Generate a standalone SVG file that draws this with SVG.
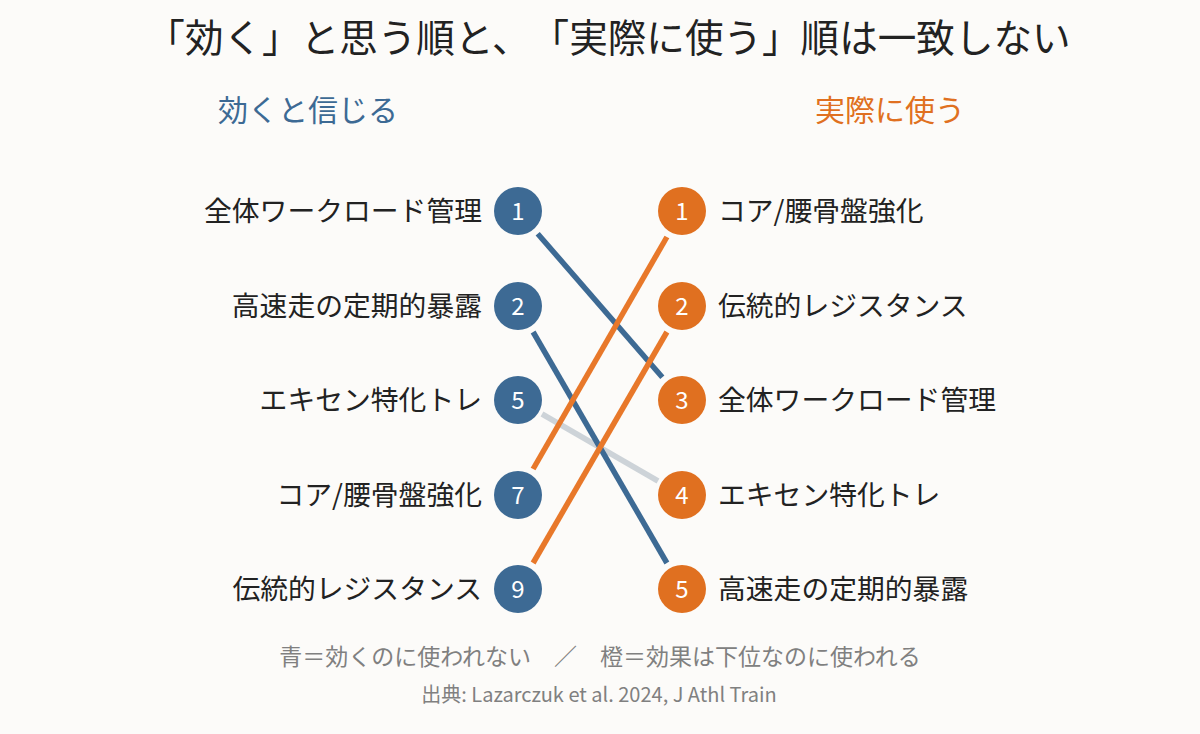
<svg xmlns="http://www.w3.org/2000/svg" width="1200" height="734" viewBox="0 0 1200 734">
<style>
text{font-family:"Noto Sans CJK JP","Noto Sans",sans-serif;text-spacing-trim:space-all}
.title{font-size:38.6px;fill:#222;text-anchor:middle}
.hl{font-size:30px;fill:#3d6a94;text-anchor:middle}
.hr{font-size:30px;fill:#e07020;text-anchor:middle}
.ll{font-size:27.8px;fill:#222;text-anchor:end}
.rl{font-size:27.8px;fill:#222;text-anchor:start}
.num{font-size:24px;fill:#fff;text-anchor:middle}
.cb{fill:#3d6a94}
.co{fill:#e07020}
.lb{stroke:#3d6a94;stroke-width:5.5}
.lo{stroke:#e8782a;stroke-width:5.5}
.lg{stroke:#cdd3d8;stroke-width:5.5}
.note{font-size:23px;fill:#808080;text-anchor:middle}
.src{font-size:20px;fill:#808080;text-anchor:middle}
</style>
<rect width="1200" height="734" fill="#fcfbf9"/>
<text class="title" x="608.5" y="52">「効く」と思う順と、「実際に使う」順は一致しない</text>
<text class="hl" x="308" y="121">効くと信じる</text>
<text class="hr" x="890" y="121">実際に使う</text>
<g id="connectors">
<line class="lg" x1="542" y1="414" x2="658" y2="481"/>
<line class="lb" x1="537.7" y1="233.7" x2="662.3" y2="377.3"/>
<line class="lb" x1="533.1" y1="332" x2="666.9" y2="563"/>
<line class="lo" x1="533.1" y1="469" x2="666.9" y2="237"/>
<line class="lo" x1="533.1" y1="563" x2="666.9" y2="332"/>
</g>
<g id="left-1"><circle class="cb" cx="518" cy="211" r="24"/><text class="num" x="518" y="220">1</text><text class="ll" x="482" y="221">全体ワークロード管理</text></g>
<g id="left-2"><circle class="cb" cx="518" cy="306" r="24"/><text class="num" x="518" y="315">2</text><text class="ll" x="482" y="316">高速走の定期的暴露</text></g>
<g id="left-5"><circle class="cb" cx="518" cy="400" r="24"/><text class="num" x="518" y="409">5</text><text class="ll" x="482" y="410">エキセン特化トレ</text></g>
<g id="left-7"><circle class="cb" cx="518" cy="495" r="24"/><text class="num" x="518" y="504">7</text><text class="ll" x="482" y="505">コア/腰骨盤強化</text></g>
<g id="left-9"><circle class="cb" cx="518" cy="589" r="24"/><text class="num" x="518" y="598">9</text><text class="ll" x="482" y="599">伝統的レジスタンス</text></g>
<g id="right-1"><circle class="co" cx="682" cy="211" r="24"/><text class="num" x="682" y="220">1</text><text class="rl" x="718" y="221">コア/腰骨盤強化</text></g>
<g id="right-2"><circle class="co" cx="682" cy="306" r="24"/><text class="num" x="682" y="315">2</text><text class="rl" x="718" y="316">伝統的レジスタンス</text></g>
<g id="right-3"><circle class="co" cx="682" cy="400" r="24"/><text class="num" x="682" y="409">3</text><text class="rl" x="718" y="410">全体ワークロード管理</text></g>
<g id="right-4"><circle class="co" cx="682" cy="495" r="24"/><text class="num" x="682" y="504">4</text><text class="rl" x="718" y="505">エキセン特化トレ</text></g>
<g id="right-5"><circle class="co" cx="682" cy="589" r="24"/><text class="num" x="682" y="598">5</text><text class="rl" x="718" y="599">高速走の定期的暴露</text></g>
<text class="note" x="600" y="665">青＝効くのに使われない　／　橙＝効果は下位なのに使われる</text>
<text class="src" x="599" y="702">出典: Lazarczuk et al. 2024, J Athl Train</text>
</svg>
